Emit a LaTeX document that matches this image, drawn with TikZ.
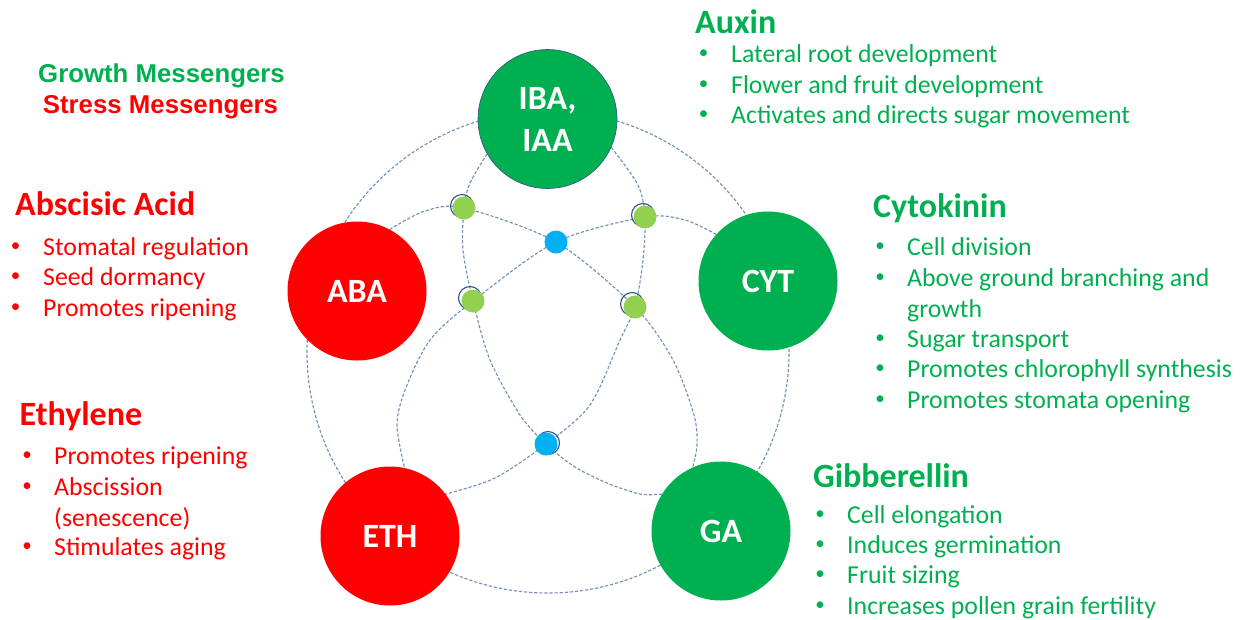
\documentclass[tikz,border=0pt]{standalone}
\usepackage{fontspec}
\setmainfont{Carlito}
\newfontfamily\legfont{Liberation Sans}
\usetikzlibrary{backgrounds}
\definecolor{grn}{HTML}{00B050}
\definecolor{rd}{HTML}{FF0000}
\definecolor{lgrn}{HTML}{92D050}
\definecolor{cyn}{HTML}{00B0F0}
\definecolor{navy}{HTML}{2F528F}
\definecolor{dl}{RGB}{115,145,185}
\begin{document}
\begin{tikzpicture}[x=1pt,y=-1pt,
  big/.style={circle, minimum size=139pt, inner sep=0pt, text=white, font=\fontsize{34}{42}\selectfont\bfseries, align=center},
  gbig/.style={big, fill=grn},
  rbig/.style={big, fill=rd},
  dotg/.style={circle, minimum size=23pt, inner sep=0pt, fill=lgrn},
  dotb/.style={circle, minimum size=23pt, inner sep=0pt, fill=cyn},
  ring/.style={circle, minimum size=23pt, inner sep=0pt, draw=navy, line width=1.1pt},
  dline/.style={draw=dl, line width=1.15pt, dash pattern=on 3.2pt off 1.9pt},
  head/.style={anchor=base west, inner sep=0pt, font=\fontsize{34}{40}\selectfont\bfseries},
  body/.style={anchor=base west, inner sep=0pt, font=\fontsize{25.8}{30}\selectfont},
  bul/.style={anchor=center, inner sep=0pt, font=\fontsize{19}{22}\selectfont},
  leg/.style={anchor=base, inner sep=0pt, font=\legfont\fontsize{25.8}{30}\selectfont\bfseries},
]
\useasboundingbox (0,0) rectangle (1247,619);

% title fragment cut at the top
\node[anchor=base west, inner sep=0pt, font=\fontsize{46}{50}\selectfont\bfseries] (ttl) at (94,-8) {y};

% big circles
\node[gbig, draw=navy, line width=0.6pt] (iba) at (547.5,119) {IBA,\\IAA};
\node[rbig] (aba) at (357,291) {ABA};
\node[gbig] (cyt) at (768,281) {CYT};
\node[rbig] (eth) at (390,536) {ETH};
\node[gbig] (ga) at (721,531) {GA};

% junction dots
\node[ring] (r1) at (462,206) {};
\node[dotg] (d1) at (464,208) {};
\node[ring] (r2) at (643,215) {};
\node[dotg] (d2) at (645,217) {};
\node[ring] (r3) at (470,298) {};
\node[dotg] (d3) at (473,301) {};
\node[ring] (r4) at (632,304) {};
\node[dotg] (d4) at (635,307) {};
\node[dotb] (b1) at (556,242) {};
\node[ring] (r6) at (548,443) {};
\node[dotb] (b2) at (546,444) {};

\begin{scope}[on background layer]
  \coordinate (ctr) at (548,352);
  \draw[dline] (ctr) circle[radius=241pt];
  \draw[dline] plot[smooth] coordinates {(aba.62) (425,211) (d1) (b1) (d4) (673,360) (694,415) (697,445) (ga.114)};
  \draw[dline] plot[smooth] coordinates {(cyt.138) (685,220) (d2) (b1) (d3) (430,340) (405,390) (397,425) (eth.78)};
  \draw[dline] plot[smooth] coordinates {(iba.210) (470,183) (d1) (463,250) (d3) (490,360) (520,415) (b2) (575,467) (607,483) (640,494) (ga.148)};
  \draw[dline] plot[smooth] coordinates {(iba.-24) (638,185) (d2) (643,260) (d4) (620,340) (590,405) (b2) (495,478) (eth.37)};
\end{scope}

% legend
\node[leg, text=grn] (lg1) at (161.5,82) {Growth Messengers};
\node[leg, text=rd] (lg2) at (160.5,113) {Stress Messengers};

% Auxin
\node[head, text=grn] (auxh) at (695,33) {Auxin};
\node[bul, text=grn] (auxb1) at (703.5,54.5) {•};
\node[body, text=grn] (aux1) at (731,62) {Lateral root development};
\node[bul, text=grn] (auxb2) at (703.5,85.5) {•};
\node[body, text=grn] (aux2) at (731,93) {Flower and fruit development};
\node[bul, text=grn] (auxb3) at (703.5,115.5) {•};
\node[body, text=grn] (aux3) at (731,123) {Activates and directs sugar movement};

% Cytokinin
\node[head, text=grn] (cyth) at (873,217) {Cytokinin};
\node[bul, text=grn] (cytb1) at (880,247.5) {•};
\node[body, text=grn] (cyt1) at (907,255) {Cell division};
\node[bul, text=grn] (cytb2) at (880,278.5) {•};
\node[body, text=grn] (cyt2) at (907,286) {Above ground branching and};
\node[body, text=grn] (cyt2b) at (907,317) {growth};
\node[bul, text=grn] (cytb3) at (880,339.5) {•};
\node[body, text=grn] (cyt3) at (907,347) {Sugar transport};
\node[bul, text=grn] (cytb4) at (880,369.5) {•};
\node[body, text=grn] (cyt4) at (907,377) {Promotes chlorophyll synthesis};
\node[bul, text=grn] (cytb5) at (880,400.5) {•};
\node[body, text=grn] (cyt5) at (907,408) {Promotes stomata opening};

% Gibberellin
\node[head, text=grn] (gah) at (813,487) {Gibberellin};
\node[bul, text=grn] (gab1) at (820,515.5) {•};
\node[body, text=grn] (ga1) at (847,523) {Cell elongation};
\node[bul, text=grn] (gab2) at (820,545.5) {•};
\node[body, text=grn] (ga2) at (847,553) {Induces germination};
\node[bul, text=grn] (gab3) at (820,575.5) {•};
\node[body, text=grn] (ga3) at (847,583) {Fruit sizing};
\node[bul, text=grn] (gab4) at (820,606.5) {•};
\node[body, text=grn] (ga4) at (847,614) {Increases pollen grain fertility};

% Abscisic Acid
\node[head, text=rd] (abah) at (15,215) {Abscisic Acid};
\node[bul, text=rd] (abab1) at (15.5,247.5) {•};
\node[body, text=rd] (aba1) at (43,255) {Stomatal regulation};
\node[bul, text=rd] (abab2) at (15.5,277.5) {•};
\node[body, text=rd] (aba2) at (43,285) {Seed dormancy};
\node[bul, text=rd] (abab3) at (15.5,308.5) {•};
\node[body, text=rd] (aba3) at (43,316) {Promotes ripening};

% Ethylene
\node[head, text=rd] (ethh) at (19.5,425) {Ethylene};
\node[bul, text=rd] (ethb1) at (27,456.5) {•};
\node[body, text=rd] (eth1) at (54,464) {Promotes ripening};
\node[bul, text=rd] (ethb2) at (27,487.5) {•};
\node[body, text=rd] (eth2) at (54,495) {Abscission};
\node[body, text=rd] (eth2b) at (54,526) {(senescence)};
\node[bul, text=rd] (ethb3) at (27,547.5) {•};
\node[body, text=rd] (eth3) at (54,555) {Stimulates aging};
\end{tikzpicture}
\end{document}
